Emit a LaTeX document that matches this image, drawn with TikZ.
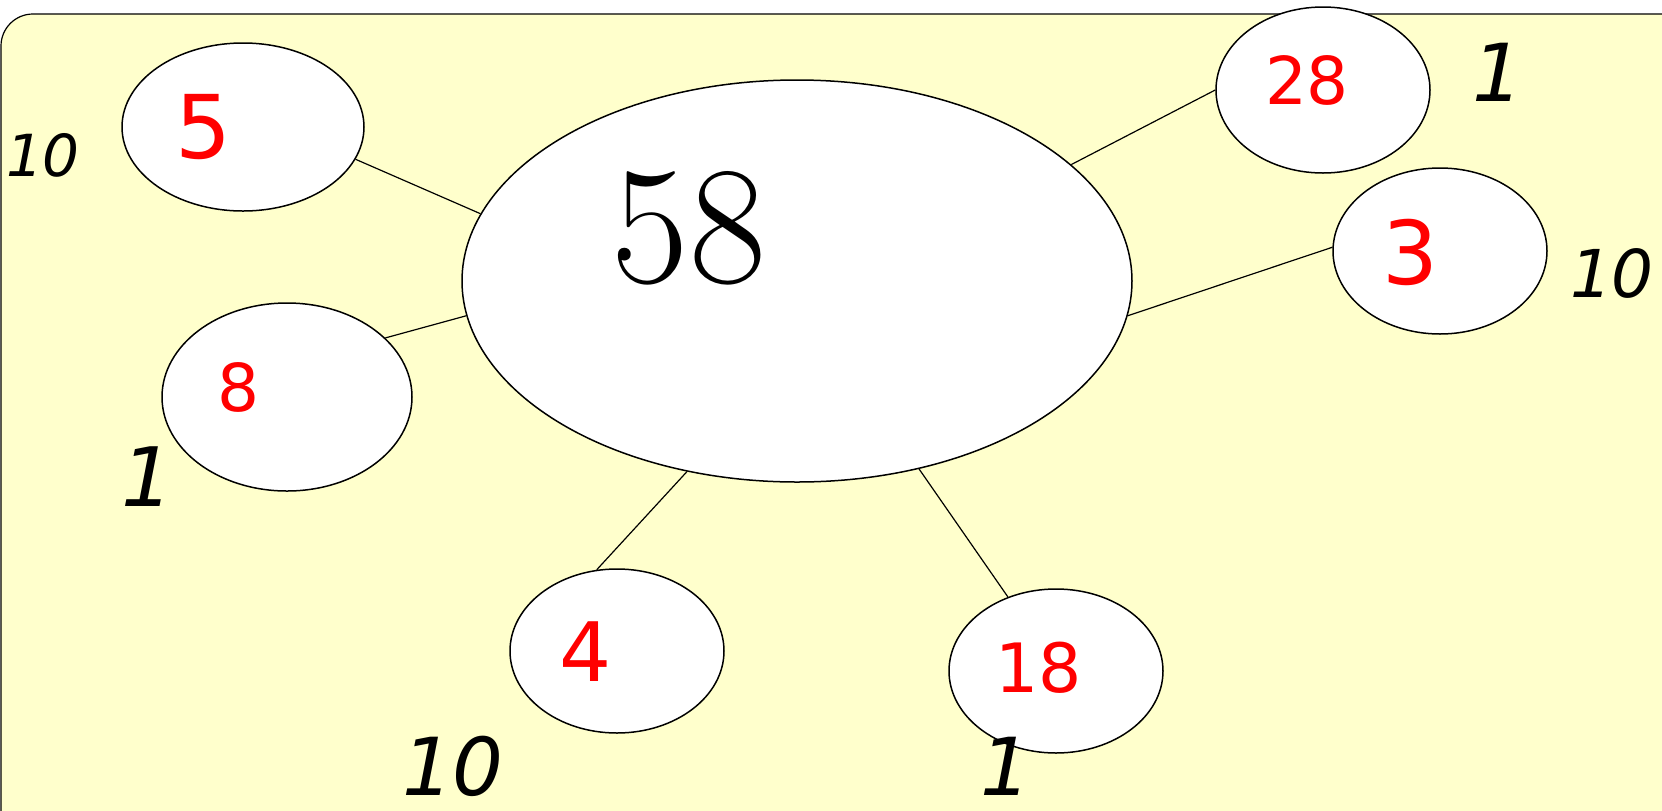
\documentclass[tikz,border=0pt]{standalone}
\usepackage{fontspec}
\newfontfamily\redfont{DejaVu Sans}
\newfontfamily\labfont{DejaVu Sans}
\usetikzlibrary{shapes.geometric}
\definecolor{bgyellow}{HTML}{FFFFCC}
\definecolor{numred}{HTML}{FF0000}
\tikzset{
  blob/.style={ellipse, draw=black, line width=0.75pt, fill=white, inner sep=0pt},
  rednum/.style={text=numred, inner sep=0pt, font=\redfont\fontsize{#1}{#1}\selectfont},
  lab/.style={text=black, inner sep=0pt, font=\labfont\itshape\fontsize{#1}{#1}\selectfont},
  link/.style={draw=black, line width=0.6pt},
  bignum/.style={text=black, inner sep=0pt, font=\rmfamily\fontsize{84}{84}\selectfont}
}
\begin{document}
\begin{tikzpicture}[x=0.5pt,y=-0.5pt]
\useasboundingbox (0,0) rectangle (1662,810);
\clip (0,0) rectangle (1662,810);
\draw[fill=bgyellow, line width=0.6pt, rounded corners=16pt] (1,14) rectangle (1720,860);

% big node
\node[blob, minimum width=335pt, minimum height=201pt] (big) at (797,281) {};
\node[bignum] (t58) at (689,228) {58};

% small nodes
\node[blob, minimum width=121pt, minimum height=84pt] (n5) at (243,127) {};
\node[blob, minimum width=107pt, minimum height=83pt] (n28) at (1323,90) {};
\node[blob, minimum width=107pt, minimum height=83pt] (n3) at (1440,251) {};
\node[blob, minimum width=125pt, minimum height=94pt] (n8) at (287,397) {};
\node[blob, minimum width=107pt, minimum height=82pt] (n4) at (617,651) {};
\node[blob, minimum width=107pt, minimum height=82pt] (n18) at (1056,671) {};

% red numbers
\node[rednum=44] (t5) at (203,127) {5};
\node[rednum=33] (t28) at (1307,80) {28};
\node[rednum=44] (t3) at (1410,252) {3};
\node[rednum=33] (t8) at (238,387) {8};
\node[rednum=41] (t4) at (586,652) {4};
\node[rednum=34] (t18) at (1039,668) {18};

% italic labels
\node[lab=29] (l5) at (43,155) {10};
\node[lab=40] (l28) at (1498,72) {1};
\node[lab=33] (l3) at (1612,273) {10};
\node[lab=41] (l8) at (148,477) {1};
\node[lab=40] (l4) at (453,766) {10};
\node[lab=40] (l18) at (1006,766) {1};

% connectors
\draw[link] (n5.-16) -- (big.168);
\draw[link] (n8.31) -- (big.186);
\draw[link] (n28.180) -- (big.23);
\draw[link] (n3.178) -- (big.-6);
\draw[link] (n4.104) -- (big.240);
\draw[link] (n18.123) -- (big.-57);
\end{tikzpicture}
\end{document}
